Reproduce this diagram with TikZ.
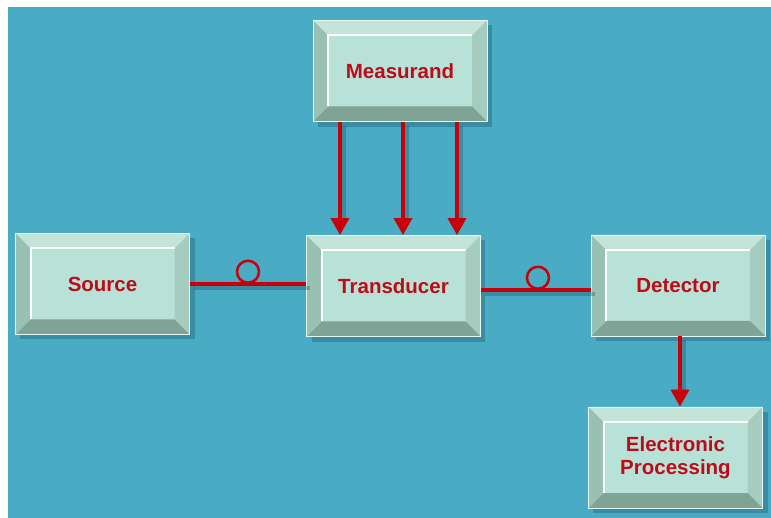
\documentclass[tikz,border=0pt]{standalone}
\usepackage{fontspec}
\setmainfont{Liberation Sans}
\usetikzlibrary{arrows.meta,shadows}

\definecolor{seabg}{HTML}{4AABC5}
\definecolor{facemint}{HTML}{B8E2D8}
\definecolor{bevtop}{HTML}{C4E4DA}
\definecolor{bevleft}{HTML}{98C0B3}
\definecolor{bevright}{HTML}{A6CBBF}
\definecolor{bevbottom}{HTML}{7FA395}
\definecolor{rimwhite}{HTML}{E6F6F2}
\definecolor{labelred}{HTML}{BC0C1A}
\definecolor{wirered}{HTML}{C80008}
\definecolor{shadeblue}{HTML}{1D5566}

\def\bv{15pt}

\begin{document}
\begin{tikzpicture}[
  x=1pt, y=-1pt,
  panel/.style={rectangle, minimum width=174pt, minimum height=101pt,
    fill=facemint, draw=rimwhite, line width=0.8pt, align=center,
    font=\fontsize{20.5}{23}\selectfont\bfseries, text=labelred,
    path picture={
      \coordinate (pa) at (path picture bounding box.north west);
      \coordinate (pb) at (path picture bounding box.north east);
      \coordinate (pc) at (path picture bounding box.south east);
      \coordinate (pd) at (path picture bounding box.south west);
      \fill[bevtop] (pa) -- (pb) -- ([shift={(-\bv,-\bv)}]pb) -- ([shift={(\bv,-\bv)}]pa) -- cycle;
      \fill[bevright] (pb) -- (pc) -- ([shift={(-\bv,\bv)}]pc) -- ([shift={(-\bv,-\bv)}]pb) -- cycle;
      \fill[bevbottom] (pc) -- (pd) -- ([shift={(\bv,\bv)}]pd) -- ([shift={(-\bv,\bv)}]pc) -- cycle;
      \fill[bevleft] (pd) -- (pa) -- ([shift={(\bv,-\bv)}]pa) -- ([shift={(\bv,\bv)}]pd) -- cycle;
      \draw[white, line width=2pt] ([shift={(\bv,\bv)}]pd) -- ([shift={(\bv,-\bv)}]pa) -- ([shift={(-\bv,-\bv)}]pb);
    }},
  shade box/.style={fill=shadeblue, opacity=0.35},
  wire/.style={draw=wirered, line width=3.5pt},
  wire shade/.style={draw=shadeblue, opacity=0.35, line width=3.5pt},
  feed/.style={wire, -{Triangle[width=18pt,length=17pt]}},
  loop/.style={circle, draw=wirered, line width=2.5pt, minimum size=22pt, inner sep=0pt}
]
\useasboundingbox (0,0) rectangle (771,518);
\fill[seabg] (8,7) rectangle (771,518);

% shadows of the blocks
\fill[shade box] (318,25) rectangle (492,127);
\fill[shade box] (20,238) rectangle (195,339);
\fill[shade box] (312,240) rectangle (485,342);
\fill[shade box] (596,240) rectangle (770,341);
\fill[shade box] (593,412) rectangle (768,513);

% blocks
\node[panel] (meas) at (400,71) {Measurand};
\node[panel] (src) at (102.5,284) {Source};
\node[panel] (trd) at (393.5,286) {Transducer};
\node[panel] (det) at (678,285.5) {Detector};
\node[panel] (elp) at (675.5,457.5) {Electronic\\Processing};

% shadows of the connectors
\begin{scope}[transform canvas={shift={(4pt,-4pt)}}]
\draw[wire shade] ([xshift=-60pt]meas.south) -- ([xshift=-60pt,yshift=14pt]meas.south |- trd.north);
\draw[wire shade] ([xshift=3pt]meas.south) -- ([xshift=3pt,yshift=14pt]meas.south |- trd.north);
\draw[wire shade] ([xshift=57pt]meas.south) -- ([xshift=57pt,yshift=14pt]meas.south |- trd.north);
\draw[wire shade] (src.east) -- (src.east -| trd.west);
\draw[wire shade] ([yshift=-4pt]trd.east) -- ([yshift=-4pt]trd.east -| det.west);
\draw[wire shade] ([xshift=2pt]det.south) -- ([xshift=2pt,yshift=14pt]det.south |- elp.north);
\end{scope}

% measurand into transducer
\draw[feed] ([xshift=-60pt]meas.south) -- ([xshift=-60pt]meas.south |- trd.north);
\draw[feed] ([xshift=3pt]meas.south) -- ([xshift=3pt]meas.south |- trd.north);
\draw[feed] ([xshift=57pt]meas.south) -- ([xshift=57pt]meas.south |- trd.north);

% fibre links
\draw[wire] (src.east) -- node[loop, anchor=south, pos=.5] (lpa) {} (src.east -| trd.west);
\draw[wire] ([yshift=-4pt]trd.east) -- node[loop, anchor=south, pos=.52] (lpb) {} ([yshift=-4pt]trd.east -| det.west);

% to processing
\draw[feed] ([xshift=2pt]det.south) -- ([xshift=2pt]det.south |- elp.north);

\end{tikzpicture}
\end{document}
